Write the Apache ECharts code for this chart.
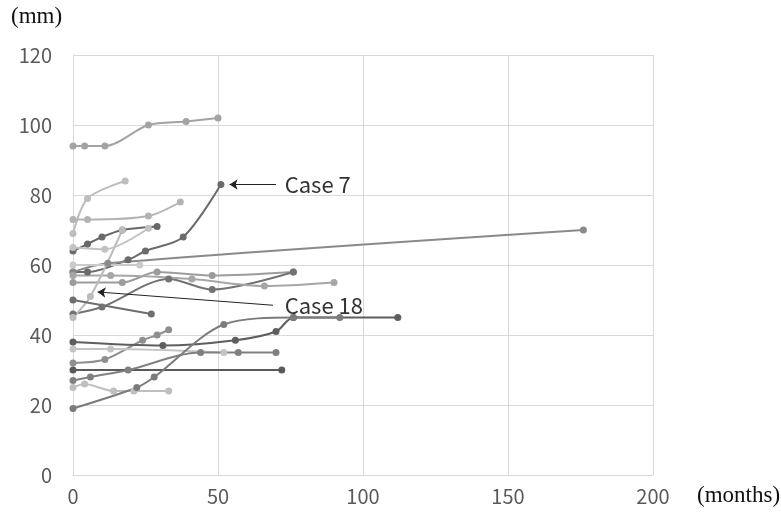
<!DOCTYPE html>
<html><head><meta charset="utf-8">
<script src="https://cdn.jsdelivr.net/npm/echarts@6/dist/echarts.min.js"></script>
<style>html,body{margin:0;padding:0;background:#fff}#c{width:781px;height:516px}</style>
</head><body><div id="c"></div>
<script>
const xTicks = [0, 50, 100, 150, 200];
const yTicks = [0, 20, 40, 60, 80, 100, 120];

const sA = [[0,94],[4,94],[11,94],[26,100],[39,101],[50,102]];
const sB = [[0,69],[5,79],[18,84]];
const sC = [[0,73],[5,73],[26,74],[37,78]];
const sCase7 = [[0,58],[5,58],[19,61.5],[25,64],[38,68],[51,83]];
const sDark64 = [[0,64],[5,66],[10,68],[17,70],[29,71]];
const sLight65 = [[0,65],[11,64.5],[26,70.5]];
const sLong = [[0,58],[12,60.5],[176,70]];
const sLight60 = [[0,60],[23,60]];
const sG = [[0,55],[17,55],[29,58],[48,57],[76,58]];
const sH = [[0,46],[10,48],[33,56],[48,53],[76,58]];
const sI = [[0,57],[13,57],[41,56],[66,54],[90,55]];
const sCase18 = [[0,45],[6,51],[17,70]];
const sJ = [[0,50],[27,46]];
const sP = [[0,32],[11,33],[24,38.5],[29,40],[33,41.5]];
const sO = [[0,36],[13,36],[52,35]];
const sM = [[0,38],[31,37],[56,38.5],[70,41],[76,45],[112,45]];
const sD30 = [[0,30],[72,30]];
const sK = [[0,27],[6,28],[19,30],[44,35],[57,35],[70,35]];
const sL25 = [[0,25],[4,26],[14,24],[21,24],[33,24]];
const sN = [[0,19],[22,25],[28,28],[52,43],[76,45],[92,45]];

const seriesDefs = [
  [sA,'#a3a3a3'],[sB,'#bdbdbd'],[sC,'#b3b3b3'],[sCase7,'#6b6b6b'],[sDark64,'#686868'],
  [sLight65,'#c2c2c2'],[sLong,'#8a8a8a'],[sLight60,'#cacaca'],[sG,'#9c9c9c'],[sH,'#737373'],
  [sI,'#a6a6a6'],[sCase18,'#bcbcbc'],[sJ,'#6e6e6e'],[sP,'#8f8f8f'],[sO,'#c4c4c4'],
  [sM,'#5e5e5e'],[sD30,'#5a5a5a'],[sK,'#808080'],[sL25,'#bfbfbf'],[sN,'#7b7b7b']
];

const series = seriesDefs.map(([d,c]) => ({
  type:'line', data:d, smooth:0.3, symbol:'circle', symbolSize:7,
  lineStyle:{color:c,width:2}, itemStyle:{color:c}, z:2
}));

const annot = {
  type:'line', data:[], silent:true, z:5,
  markLine:{
    silent:true, symbol:['none','arrow'], symbolSize:[8,8],
    lineStyle:{color:'#222',width:1,type:'solid'},
    label:{show:false},
    data:[
      [{coord:[70,83]},{coord:[54,83]}],
      [{coord:[69,48.5]},{coord:[8.5,52.3]}]
    ]
  },
  markPoint:{
    silent:true, symbol:'circle', symbolSize:0,
    label:{show:true, position:'right', distance:0, color:'#333', fontSize:22, fontFamily:'Noto Sans CJK JP', formatter:p=>p.name},
    data:[{name:'Case 7',coord:[73,83]},{name:'Case 18',coord:[73,48.5]}]
  }
};

const chart = echarts.init(document.getElementById('c'));
chart.setOption({
  animation:false,
  grid:{left:73,right:128,top:55,bottom:41,containLabel:false},
  xAxis:{type:'value',min:xTicks[0],max:xTicks[xTicks.length-1],interval:50,
    axisLine:{show:true,lineStyle:{color:'#d9d9d9'}},axisTick:{show:false},
    splitLine:{show:true,lineStyle:{color:'#d9d9d9'}},
    axisLabel:{color:'#595959',fontSize:20,margin:11,fontFamily:'Noto Sans CJK JP'}},
  yAxis:{type:'value',min:yTicks[0],max:yTicks[yTicks.length-1],interval:20,
    axisLine:{show:true,lineStyle:{color:'#d9d9d9'}},axisTick:{show:false},
    splitLine:{show:true,lineStyle:{color:'#d9d9d9'}},
    axisLabel:{color:'#595959',fontSize:20,margin:21,fontFamily:'Noto Sans CJK JP'}},
  graphic:[
    {type:'text',left:11,top:5,style:{text:'(mm)',font:'23px "Liberation Serif"',fill:'#111'}},
    {type:'text',left:697,top:484,style:{text:'(months)',font:'23px "Liberation Serif"',fill:'#111'}}
  ],
  series: series.concat([annot])
});
</script></body></html>
